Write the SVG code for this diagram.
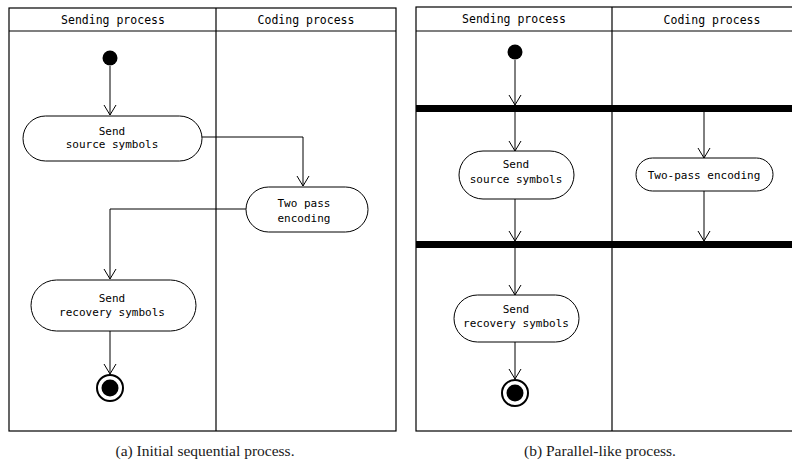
<svg xmlns="http://www.w3.org/2000/svg" width="792" height="464" viewBox="0 0 792 464">
  <defs>
    <marker id="open" markerUnits="userSpaceOnUse" markerWidth="12" markerHeight="14" viewBox="0 0 12 14" refX="11" refY="7" orient="auto" overflow="visible">
      <path d="M1,1 L11,7 L1,13" fill="none" stroke="#000" stroke-width="1"/>
    </marker>
    <style>
      .lane { fill: none; stroke: #000; stroke-width: 1.2; }
      .hdr { font-family: "DejaVu Sans Mono", "Liberation Mono", monospace; font-size: 11.5px; text-anchor: middle; fill: #000; }
      .lbl { font-family: "DejaVu Sans Mono", "Liberation Mono", monospace; font-size: 11px; text-anchor: middle; fill: #000; }
      .act { fill: #fff; stroke: #000; stroke-width: 1; }
      .start { fill: #000; }
      .endo { fill: #fff; stroke: #000; stroke-width: 2; }
      .endi { fill: #000; }
      .bar { fill: #000; }
      .edge { fill: none; stroke: #000; stroke-width: 1; marker-end: url(#open); }
      .cap { font-family: "Liberation Serif", "Times New Roman", serif; font-size: 15.5px; text-anchor: middle; fill: #1a1a1a; }
    </style>
  </defs>

  <!-- (a) sequential swimlanes -->
  <g id="lanes-a">
    <rect class="lane" x="9" y="8" width="387" height="423"/>
    <line class="lane" x1="9" y1="31" x2="396" y2="31"/>
    <line class="lane" x1="216" y1="8" x2="216" y2="431"/>
    <text class="hdr" x="113" y="24">Sending process</text>
    <text class="hdr" x="306" y="24">Coding process</text>
  </g>

  <g id="edges-a">
    <path class="edge" d="M110,66 V115"/>
    <path class="edge" d="M202,137 H303 V186"/>
    <path class="edge" d="M246,209 H110 V279"/>
    <path class="edge" d="M110,331 V374"/>
  </g>

  <g id="a-start"><circle class="start" cx="110" cy="58" r="7.5"/></g>
  <g id="a-send-source">
    <rect class="act" x="23" y="116" width="179" height="45" rx="22.5"/>
    <text class="lbl" x="112" y="135">Send</text>
    <text class="lbl" x="112" y="148">source symbols</text>
  </g>
  <g id="a-two-pass">
    <rect class="act" x="246" y="187" width="122" height="45" rx="22.5"/>
    <text class="lbl" x="304" y="207">Two pass</text>
    <text class="lbl" x="304" y="222">encoding</text>
  </g>
  <g id="a-send-recovery">
    <rect class="act" x="31" y="280" width="165" height="51" rx="25.5"/>
    <text class="lbl" x="112" y="302">Send</text>
    <text class="lbl" x="112" y="316">recovery symbols</text>
  </g>
  <g id="a-end">
    <circle class="endo" cx="110" cy="388" r="13"/>
    <circle class="endi" cx="110" cy="388" r="8.5"/>
  </g>

  <text class="cap" x="205" y="456">(a) Initial sequential process.</text>

  <!-- (b) parallel-like swimlanes -->
  <g id="lanes-b">
    <rect class="lane" x="416" y="7" width="390" height="424"/>
    <line class="lane" x1="416" y1="31" x2="800" y2="31"/>
    <line class="lane" x1="612" y1="7" x2="612" y2="431"/>
    <text class="hdr" x="514" y="23">Sending process</text>
    <text class="hdr" x="712" y="24">Coding process</text>
  </g>

  <g id="b-fork"><rect class="bar" x="416" y="105" width="380" height="7"/></g>
  <g id="b-join"><rect class="bar" x="416" y="241" width="380" height="7"/></g>

  <g id="edges-b">
    <path class="edge" d="M515,60 V105"/>
    <path class="edge" d="M515,112 V151"/>
    <path class="edge" d="M704,112 V158"/>
    <path class="edge" d="M515,199 V241"/>
    <path class="edge" d="M704,191 V241"/>
    <path class="edge" d="M515,248 V295"/>
    <path class="edge" d="M515,342 V379"/>
  </g>

  <g id="b-start"><circle class="start" cx="515" cy="52" r="7.5"/></g>
  <g id="b-send-source">
    <rect class="act" x="459" y="151" width="115" height="48" rx="24"/>
    <text class="lbl" x="516" y="168">Send</text>
    <text class="lbl" x="516" y="183">source symbols</text>
  </g>
  <g id="b-two-pass">
    <rect class="act" x="636" y="158" width="137" height="33" rx="16.5"/>
    <text class="lbl" x="704" y="179">Two-pass encoding</text>
  </g>
  <g id="b-send-recovery">
    <rect class="act" x="454" y="295" width="125" height="47" rx="23.5"/>
    <text class="lbl" x="516" y="313">Send</text>
    <text class="lbl" x="516" y="327">recovery symbols</text>
  </g>
  <g id="b-end">
    <circle class="endo" cx="515" cy="393" r="13"/>
    <circle class="endi" cx="515" cy="393" r="8.5"/>
  </g>

  <text class="cap" x="600" y="456">(b) Parallel-like process.</text>
</svg>
